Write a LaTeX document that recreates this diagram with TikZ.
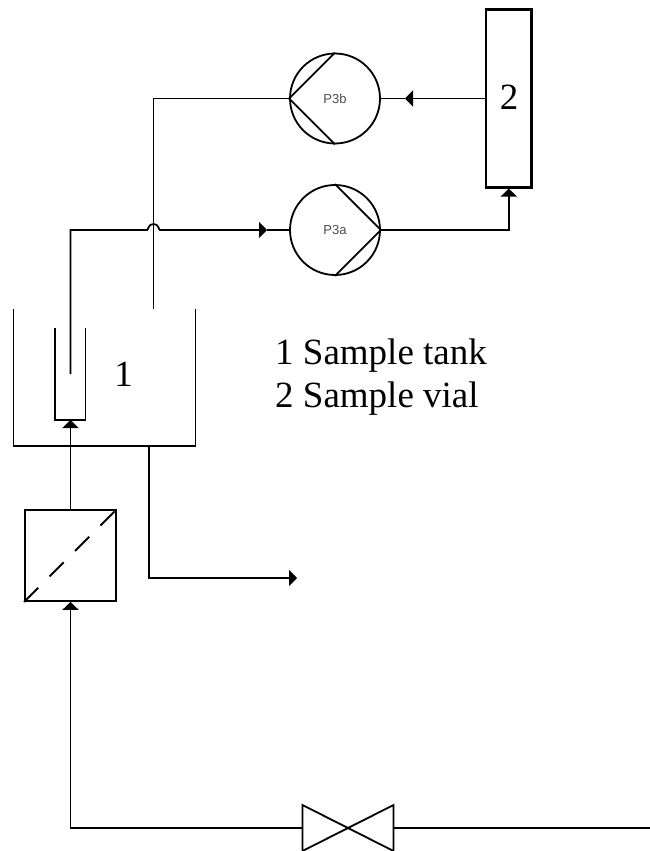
\documentclass[tikz,border=0pt]{standalone}
\usepackage{fontspec}
\setmainfont{Liberation Serif}
\newfontfamily\pumpfont{Liberation Sans}
\usetikzlibrary{arrows.meta, calc}

\tikzset{
    pipe/.style={line width=1.8pt},
    flow/.style={pipe, -{Triangle[length=8pt, width=16pt]}},
    pumpbody/.style={draw, circle, pipe, minimum size=90pt, inner sep=0pt,
        font=\pumpfont\fontsize{13}{15}\selectfont, text=black!70},
    unitbox/.style={draw, line width=2.2pt, inner sep=0pt},
    bigtext/.style={font=\fontsize{37}{42}\selectfont, inner sep=0pt},
    legendtext/.style={bigtext, anchor=base west}
}

\begin{document}
\begin{tikzpicture}[x=1pt, y=-1pt]
    \useasboundingbox (0,0) rectangle (650,851);

    % --- ポンプと容器 ---
    \node[pumpbody] (pumpb) at (335,98.5) {P3b};
    \node[pumpbody] (pumpa) at (335,230) {P3a};
    \node[unitbox, minimum width=45.5pt, minimum height=178pt] (vial) at (508.8,98.5) {};
    \node[bigtext] (vialno) at (509,97.5) {2};
    \node[unitbox, line width=1.8pt, minimum size=91pt] (filter) at (70.5,555.5) {};

    % --- ポンプの羽根 ---
    \draw[pipe] (pumpb.north) -- (pumpb.west) -- (pumpb.south);
    \draw[pipe] (pumpa.north) -- (pumpa.east) -- (pumpa.south);
    \draw[pipe, dash pattern=on 20pt off 16pt] (filter.south west) -- (filter.north east);

    % --- タンク ---
    \coordinate (tankL) at (13.5,309);
    \coordinate (tankR) at (195.5,309);
    \coordinate (tubeL) at (55,328);
    \coordinate (tubeR) at (85.5,328);
    \draw[pipe] (tankL) -- (13.5,446) -- (195.5,446) -- (tankR);
    \draw[pipe] (tubeL) -- (55,420) -- (85.5,420) -- (tubeR);
    \node[bigtext] (tankno) at (123.5,374) {1};

    % --- 配管 ---
    \coordinate (dipend) at (70.5,374);
    \coordinate (ventend) at (153.5,309);
    \coordinate (outend) at (297,578);
    \coordinate (tubein) at (70.5,420);
    \coordinate (tankout) at (149,446);
    \coordinate (feedA) at (267,230);
    \coordinate (feedB) at (405,98.5);

    \draw[flow] (dipend) -- (70.5,230) -- (147,230)
        .. controls (148.5,230) and (148,224) .. (153.5,224)
        .. controls (159,224) and (158.5,230) .. (160,230) -- (feedA);
    \draw[pipe] (feedA) -- (pumpa.west);
    \draw[flow] (pumpa.east) -- (508.8,230) -- (vial.south);
    \draw[flow] (vial.west |- pumpb) -- (feedB);
    \draw[pipe] (feedB) -- (pumpb.east);
    \draw[pipe] (pumpb.west) -- (153.5,98.5) -- (ventend);
    \draw[flow] (filter.north) -- (tubein);
    \draw[flow] (tankout) -- (149,578) -- (outend);

    % --- バルブ ---
    \coordinate (valveL) at (302.5,828);
    \coordinate (valveR) at (393.5,828);
    \coordinate (lineend) at (650,828);
    \draw[pipe] (302.5,805) -- (393.5,851) -- (393.5,805) -- (302.5,851) -- cycle;
    \draw[flow] (valveL) -- (70.5,828) -- (filter.south);
    \draw[pipe] (valveR) -- (lineend);

    % --- 凡例 ---
    \node[legendtext] (legenda) at (275,364) {1 Sample tank};
    \node[legendtext] (legendb) at (275,407) {2 Sample vial};
\end{tikzpicture}
\end{document}
